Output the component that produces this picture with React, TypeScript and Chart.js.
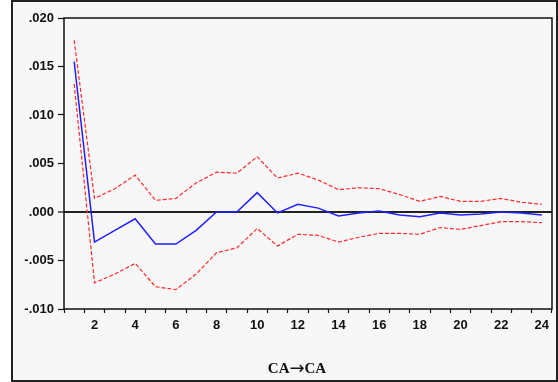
import React, { useEffect, useRef } from "react";
import { Chart, registerables } from "chart.js";

Chart.register(...registerables);

const periods = ["1","2","3","4","5","6","7","8","9","10","11","12","13","14","15","16","17","18","19","20","21","22","23","24"];
const response = [0.0155, -0.0031, -0.0019, -0.0007, -0.0033, -0.0033, -0.0019, 0.0000, 0.0000, 0.0020, -0.0001, 0.0008, 0.0004, -0.0004, -0.0001, 0.0001, -0.0003, -0.0005, -0.0001, -0.0003, -0.0002, 0.0000, -0.0001, -0.0003];
const upperBand = [0.0177, 0.0014, 0.0024, 0.0038, 0.0012, 0.0014, 0.0030, 0.0041, 0.0040, 0.0057, 0.0035, 0.0040, 0.0033, 0.0023, 0.0025, 0.0024, 0.0018, 0.0011, 0.0016, 0.0011, 0.0011, 0.0014, 0.0010, 0.0008];
const lowerBand = [0.0132, -0.0073, -0.0064, -0.0053, -0.0077, -0.0080, -0.0064, -0.0042, -0.0037, -0.0017, -0.0035, -0.0023, -0.0024, -0.0031, -0.0026, -0.0022, -0.0022, -0.0023, -0.0016, -0.0018, -0.0014, -0.0010, -0.0010, -0.0011];
const yMin = -0.01;
const yMax = 0.02;
const yStep = 0.005;
const titleParts = ["CA", "\u2192", "CA"];

function fmt(v: number): string {
  const s = Math.abs(v).toFixed(3).replace(/^0/, "");
  return (v < -1e-9 ? "-" : "") + s;
}

export default function App() {
  const ref = useRef<HTMLCanvasElement | null>(null);
  useEffect(() => {
    if (!ref.current) return;
    const framePlugin = {
      id: "frame",
      beforeDraw(chart: any) {
        const ctx = chart.ctx;
        ctx.save();
        ctx.fillStyle = "#ffffff";
        ctx.fillRect(0, 0, chart.width, chart.height);
        ctx.fillStyle = "#f7f7f7";
        ctx.fillRect(11, 1, 546, 380);
        ctx.strokeStyle = "#222";
        ctx.lineWidth = 2;
        ctx.strokeRect(12, 1, 545, 380);
        ctx.restore();
      },
      afterDraw(chart: any) {
        const ctx = chart.ctx;
        const a = chart.chartArea;
        ctx.save();
        ctx.strokeStyle = "#111";
        ctx.lineWidth = 1.5;
        ctx.strokeRect(a.left, a.top, a.right - a.left, a.bottom - a.top);
        ctx.fillStyle = "#111";
        ctx.textBaseline = "alphabetic";
        ctx.textAlign = "left";
        const serif = 'bold 15px "Liberation Serif", "Times New Roman", serif';
        const arrowFont = '18px "DejaVu Sans", sans-serif';
        const fonts = [serif, arrowFont, serif];
        const widths = titleParts.map((t, i) => { ctx.font = fonts[i]; return ctx.measureText(t).width; });
        const total = widths.reduce((p, c) => p + c, 0);
        let x = 297 - total / 2;
        titleParts.forEach((t, i) => {
          ctx.font = fonts[i];
          ctx.fillText(t, x, i === 1 ? 374 : 373);
          x += widths[i];
        });
        ctx.restore();
      },
    };
    const tickFont = { family: '"Liberation Sans", Arial, sans-serif', size: 13, weight: "bold" as const };
    const chart = new Chart(ref.current, {
      type: "line",
      data: {
        labels: periods,
        datasets: [
          { data: upperBand, borderColor: "#ff2a2a", borderWidth: 1.2, borderDash: [4, 2], pointRadius: 0, fill: false, tension: 0 },
          { data: lowerBand, borderColor: "#ff2a2a", borderWidth: 1.2, borderDash: [4, 2], pointRadius: 0, fill: false, tension: 0 },
          { data: response, borderColor: "#2020ff", borderWidth: 1.5, pointRadius: 0, fill: false, tension: 0 },
        ],
      },
      options: {
        animation: false,
        responsive: false,
        devicePixelRatio: 1,
        layout: { padding: { top: 18, right: 6, left: 0, bottom: 0 } },
        plugins: { legend: { display: false }, tooltip: { enabled: false }, title: { display: false } },
        scales: {
          x: {
            type: "category",
            offset: true,
            border: { display: false },
            grid: { offset: true, color: "rgba(0,0,0,0)", tickColor: "#111", tickLength: 4, tickWidth: 1.2, drawOnChartArea: false },
            ticks: {
              autoSkip: false,
              maxRotation: 0,
              padding: 5,
              color: "#111",
              font: tickFont,
              callback: (_v: any, i: number) => (Number(periods[i]) % 2 === 0 ? periods[i] : ""),
            },
            afterFit: (s: any) => { s.height = 73; },
          },
          y: {
            min: yMin,
            max: yMax,
            border: { display: false },
            grid: {
              color: (c: any) => (c.tick && Math.abs(c.tick.value) < 1e-9 ? "#222" : "rgba(0,0,0,0)"),
              lineWidth: (c: any) => (c.tick && Math.abs(c.tick.value) < 1e-9 ? 2 : 1),
              tickColor: "#111",
              tickWidth: 1.2,
              tickLength: 6,
            },
            ticks: { stepSize: yStep, padding: 4, color: "#111", font: tickFont, callback: (v: any) => fmt(Number(v)) },
            afterFit: (s: any) => { s.width = 64; },
          },
        },
      },
      plugins: [framePlugin],
    });
    return () => chart.destroy();
  }, []);
  return (
    <div style={{ position: "fixed", left: 0, top: 0, width: 558, height: 382 }}>
      <canvas ref={ref} width={558} height={382} style={{ width: 558, height: 382, display: "block" }} />
    </div>
  );
}
